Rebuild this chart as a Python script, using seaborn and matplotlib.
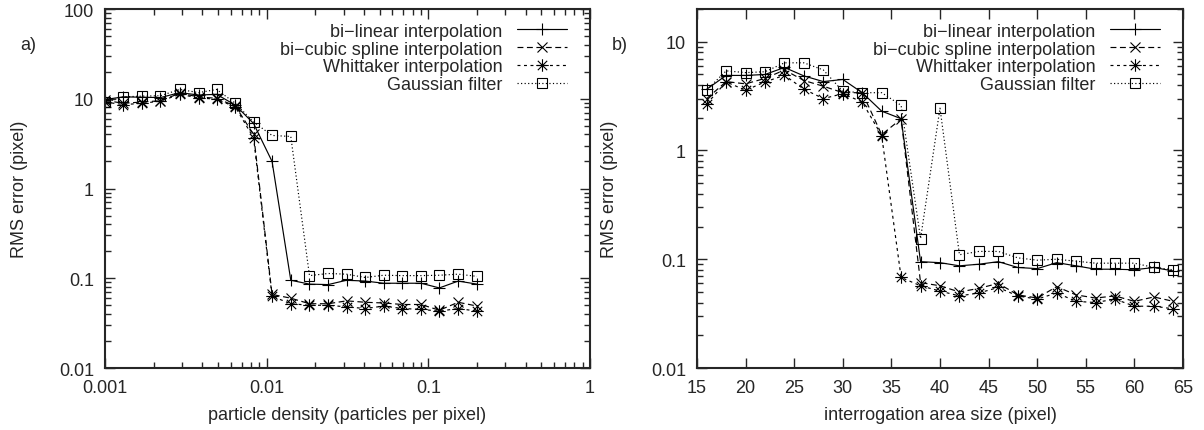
import numpy as np
import pandas as pd
import seaborn as sns
import matplotlib
matplotlib.use("Agg")
import matplotlib.pyplot as plt
from matplotlib.path import Path
from matplotlib.ticker import LogLocator, NullFormatter

sns.set_style("ticks")
plt.rcParams['font.family'] = ['Liberation Sans', 'DejaVu Sans']
plt.rcParams['axes.unicode_minus'] = True

# ---- data: panel a) particle density ----
density = [0.001, 0.0013, 0.0017, 0.0022, 0.0029, 0.0038, 0.0049, 0.0064, 0.0083, 0.0108,
           0.0141, 0.0184, 0.024, 0.0312, 0.0407, 0.053, 0.0691, 0.0901, 0.117, 0.153, 0.2]
a_linear = [9.8, 10.5, 10.4, 10.3, 11.7, 11.0, 11.2, 8.5, 5.3, 2.0,
            0.095, 0.086, 0.085, 0.095, 0.093, 0.088, 0.088, 0.088, 0.078, 0.093, 0.086]
a_cubic = [9.6, 8.9, 9.2, 9.5, 11.5, 10.5, 10.1, 8.3, 4.0, 0.066,
           0.06, 0.052, 0.052, 0.056, 0.054, 0.053, 0.051, 0.051, 0.044, 0.054, 0.049]
a_whitt = [9.2, 8.6, 8.9, 9.4, 11.2, 10.2, 9.9, 8.1, 3.66, 0.063,
           0.052, 0.05, 0.05, 0.048, 0.046, 0.049, 0.046, 0.045, 0.043, 0.046, 0.043]
a_gauss = [9.1, 10.5, 10.7, 10.8, 12.7, 11.7, 12.7, 8.9, 5.5, 3.9,
           3.8, 0.107, 0.113, 0.111, 0.102, 0.108, 0.107, 0.107, 0.108, 0.111, 0.105]

# ---- data: panel b) interrogation area size ----
area = [16, 18, 20, 22, 24, 26, 28, 30, 32, 34, 36, 38, 40,
        42, 44, 46, 48, 50, 52, 54, 56, 58, 60, 62, 64]
b_linear = [3.66, 4.9, 4.9, 5.0, 5.8, 4.85, 4.3, 4.5, 3.4, 2.3, 1.96, 0.095, 0.093,
            0.087, 0.09, 0.095, 0.084, 0.082, 0.093, 0.087, 0.081, 0.081, 0.08, 0.084, 0.078]
b_cubic = [3.0, 4.3, 4.1, 4.6, 5.5, 4.4, 3.9, 3.4, 3.4, 1.4, 1.95, 0.061, 0.057,
           0.05, 0.054, 0.06, 0.047, 0.044, 0.056, 0.047, 0.044, 0.046, 0.041, 0.045, 0.041]
b_whitt = [2.68, 4.27, 3.58, 4.27, 4.92, 3.66, 3.0, 3.33, 2.79, 1.37, 0.068, 0.057, 0.051,
           0.046, 0.049, 0.055, 0.046, 0.043, 0.049, 0.041, 0.040, 0.043, 0.037, 0.037, 0.035]
b_gauss = [3.6, 5.4, 5.2, 5.3, 6.4, 6.4, 5.5, 3.5, 3.4, 3.4, 2.6, 0.155, 2.45,
           0.11, 0.118, 0.118, 0.103, 0.098, 0.1, 0.096, 0.092, 0.092, 0.092, 0.084, 0.08]

methods = ["bi\u2212linear interpolation", "bi\u2212cubic spline interpolation",
           "Whittaker interpolation", "Gaussian filter"]

# gnuplot style '*' marker: plus and cross together
star = Path([(-1, 0), (1, 0), (0, -1), (0, 1), (-.75, -.75), (.75, .75), (-.75, .75), (.75, -.75)],
            [Path.MOVETO, Path.LINETO] * 4)
styles = [
    dict(marker="+", linestyle="-", ms=9),
    dict(marker="x", linestyle=(0, (5, 3)), ms=7),
    dict(marker=star, linestyle=(0, (2.5, 3)), ms=9),
    dict(marker="s", linestyle=(0, (1, 2)), ms=7.5),
]

FS = 13

fig = plt.figure(figsize=(12.04, 4.31), dpi=100)
ax1 = fig.add_axes([105 / 1204, 62 / 431, 485 / 1204, 359 / 431])
ax2 = fig.add_axes([697 / 1204, 62 / 431, 486 / 1204, 359 / 431])

panels = [(ax1, density, [a_linear, a_cubic, a_whitt, a_gauss]),
          (ax2, area, [b_linear, b_cubic, b_whitt, b_gauss])]

for ax, xs, series in panels:
    for name, ys, st in zip(methods, series, styles):
        df = pd.DataFrame({"x": xs, "y": ys})
        sns.lineplot(data=df, x="x", y="y", ax=ax, label=name, color="black",
                     estimator=None, sort=False, lw=0.85, mec="black", mfc="none",
                     mew=0.8, **st)
    ax.set_yscale("log")
    ax.set_ylabel("RMS error (pixel)", fontsize=FS)
    ax.tick_params(which="both", direction="in", top=True, right=True,
                   labelsize=FS, pad=8, width=1.0)
    ax.tick_params(which="major", length=7)
    ax.tick_params(which="minor", length=4)
    for sp in ax.spines.values():
        sp.set_linewidth(1.5)
    ax.yaxis.set_minor_locator(LogLocator(base=10, subs=np.arange(2, 10)))
    ax.yaxis.set_minor_formatter(NullFormatter())
    ax.legend(loc="upper right", bbox_to_anchor=(0.953, 0.962), frameon=False,
              markerfirst=False, fontsize=FS, handlelength=2.8,
              handletextpad=0.8, labelspacing=0.05, borderpad=0, borderaxespad=0)

# panel a
ax1.set_xscale("log")
ax1.set_xlim(0.001, 1)
ax1.set_ylim(0.01, 100)
ax1.set_yticks([0.01, 0.1, 1, 10, 100])
ax1.set_yticklabels(["0.01", "0.1", "1", "10", "100"])
ax1.set_xticks([0.001, 0.01, 0.1, 1])
ax1.set_xticklabels(["0.001", "0.01", "0.1", "1"])
ax1.xaxis.set_minor_locator(LogLocator(base=10, subs=np.arange(2, 10)))
ax1.xaxis.set_minor_formatter(NullFormatter())
ax1.set_xlabel("particle density (particles per pixel)", fontsize=FS, labelpad=7)
ax1.yaxis.set_label_coords(-0.158, 0.5)

# panel b
ax2.set_xlim(15, 65)
ax2.set_ylim(0.01, 20)
ax2.set_xticks(np.arange(15, 66, 5))
ax2.set_yticks([0.01, 0.1, 1, 10])
ax2.set_yticklabels(["0.01", "0.1", "1", "10"])
ax2.set_xlabel("interrogation area size (pixel)", fontsize=FS, labelpad=7)
ax2.yaxis.set_label_coords(-0.163, 0.5)

fig.text(28 / 1204, 1 - 45 / 431, "a)", fontsize=FS, ha="center", va="center")
fig.text(620 / 1204, 1 - 45 / 431, "b)", fontsize=FS, ha="center", va="center")

fig.savefig("out.png", dpi=100)
